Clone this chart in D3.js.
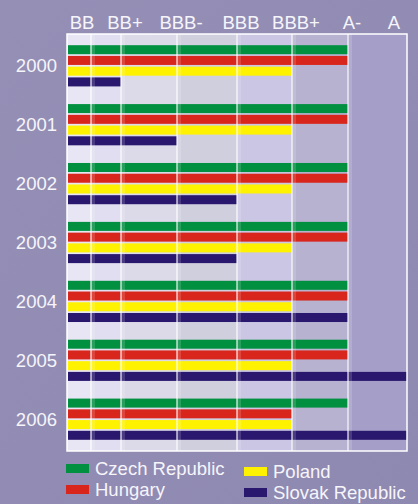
<!DOCTYPE html>
<html>
<head>
<meta charset="utf-8">
<script src="https://cdn.jsdelivr.net/npm/d3@7"></script>
<style>
  html, body { margin: 0; padding: 0; background: #948fb5; }
  svg { display: block; }
</style>
</head>
<body>
<div id="chart"></div>
<script>
// 数据
const ratings = ["BB", "BB+", "BBB-", "BBB", "BBB+", "A-", "A"];
const years = ["2000", "2001", "2002", "2003", "2004", "2005", "2006"];
const countries = ["Czech Republic", "Hungary", "Poland", "Slovak Republic"];
const countryColors = ["#009040", "#d9261c", "#fff200", "#2a186e"];
const colShades = ["#e8e6f4", "#e0def0", "#dcdae8", "#d0cfde", "#cac6e4", "#b6b2d0", "#a49ec8"];

// rating per year, one array per country (values are rating names)
const czech  = ["A-", "A-", "A-", "A-", "A-", "A-", "A-"];
const hungary = ["A-", "A-", "A-", "A-", "A-", "A-", "BBB+"];
const poland = ["BBB+", "BBB+", "BBB+", "BBB+", "BBB+", "BBB+", "BBB+"];
const slovak = ["BB+", "BBB-", "BBB", "BBB", "A-", "A", "A"];
const seriesValues = [czech, hungary, poland, slovak];

const width = 418, height = 504;
const fontSize = 18.5;

const svg = d3.select("#chart").append("svg")
    .attr("width", width)
    .attr("height", height)
    .style("font-family", "'Liberation Sans', Arial, sans-serif");

const defs = svg.append("defs");
const bg = defs.append("linearGradient").attr("id", "bg")
    .attr("x1", 0).attr("y1", 0).attr("x2", 1).attr("y2", 1);
bg.append("stop").attr("offset", 0).attr("stop-color", "#958fb6");
bg.append("stop").attr("offset", 1).attr("stop-color", "#8e89b1");
svg.append("rect").attr("width", width).attr("height", height).attr("fill", "url(#bg)");

// rating scale: index -> column boundary
const x = d3.scaleLinear()
    .domain(d3.range(0, ratings.length + 1))
    .range([67, 91, 121, 177, 237, 292, 348, 407]);
const rIndex = r => ratings.indexOf(r) + 1;

const y = d3.scaleBand()
    .domain(years)
    .range([34, 451])
    .paddingInner(0.3)
    .paddingOuter(0.19);

const yInner = d3.scaleBand()
    .domain(countries)
    .range([0, y.bandwidth()])
    .paddingInner(0.16);

const [plotTop, plotBottom] = y.range();

// 列背景
svg.append("g").selectAll("rect")
    .data(ratings)
    .join("rect")
    .attr("x", (d, i) => x(i))
    .attr("y", plotTop)
    .attr("width", (d, i) => x(i + 1) - x(i))
    .attr("height", plotBottom - plotTop)
    .attr("fill", (d, i) => colShades[i]);

// bars
const groups = svg.append("g").selectAll("g")
    .data(years)
    .join("g")
    .attr("transform", d => `translate(0,${y(d)})`);

groups.selectAll("rect")
    .data((yr, yi) => countries.map((c, ci) => ({ c, ci, v: seriesValues[ci][yi] })))
    .join("rect")
    .attr("x", x(0) + 1)
    .attr("y", d => yInner(d.c))
    .attr("width", d => x(rIndex(d.v)) - x(0) - 1)
    .attr("height", yInner.bandwidth())
    .attr("fill", d => countryColors[d.ci]);

// grid lines (over bars)
const grid = svg.append("g");
grid.selectAll("line.glow")
    .data(d3.range(1, ratings.length))
    .join("line")
    .attr("class", "glow")
    .attr("x1", d => x(d) + 2).attr("x2", d => x(d) + 2)
    .attr("y1", plotTop).attr("y2", plotBottom)
    .attr("stroke", "#ffffff").attr("stroke-opacity", 0.15).attr("stroke-width", 4);
grid.selectAll("line.main")
    .data(d3.range(1, ratings.length))
    .join("line")
    .attr("class", "main")
    .attr("x1", d => x(d)).attr("x2", d => x(d))
    .attr("y1", plotTop).attr("y2", plotBottom)
    .attr("stroke", "#ffffff").attr("stroke-opacity", 0.75).attr("stroke-width", 1.5);

svg.append("rect")
    .attr("x", x(0)).attr("y", plotTop)
    .attr("width", x(ratings.length) - x(0))
    .attr("height", plotBottom - plotTop)
    .attr("fill", "none")
    .attr("stroke", "#ffffff")
    .attr("stroke-width", 1.5);

// rating labels
const labelX = i => i === 1 ? x(1) - 9 : i === ratings.length ? x(i) - 13 : x(i) + 4;
svg.append("g").selectAll("text")
    .data(ratings)
    .join("text")
    .attr("x", (d, i) => labelX(i + 1))
    .attr("y", 29)
    .attr("text-anchor", "middle")
    .attr("fill", "#f6f5fa")
    .attr("font-size", fontSize)
    .text(d => d);

// year labels
svg.append("g").selectAll("text")
    .data(years)
    .join("text")
    .attr("x", 57)
    .attr("y", d => y(d) + y.bandwidth() / 2 + 6.5)
    .attr("text-anchor", "end")
    .attr("fill", "#f6f5fa")
    .attr("font-size", fontSize)
    .text(d => d);

// legend
const legendPos = [[66, 464], [66, 485], [244, 467], [244, 488]];
const legend = svg.append("g").selectAll("g")
    .data(countries)
    .join("g")
    .attr("transform", (d, i) => `translate(${legendPos[i][0]},${legendPos[i][1]})`);
legend.append("rect")
    .attr("width", 23).attr("height", 9)
    .attr("fill", (d, i) => countryColors[i]);
legend.append("text")
    .attr("x", 29).attr("y", 11)
    .attr("fill", "#f6f5fa")
    .attr("font-size", fontSize)
    .text(d => d);
</script>
</body>
</html>
